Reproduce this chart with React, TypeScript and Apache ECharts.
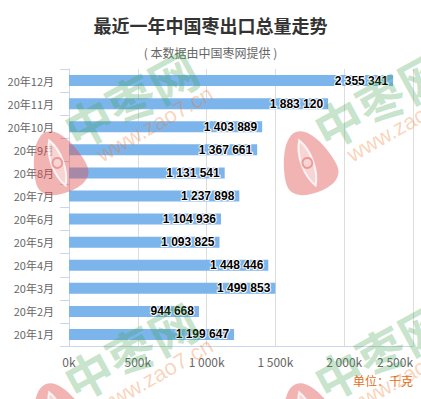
import React, { useEffect, useRef } from "react";
import * as echarts from "echarts";

const categories = [
  "20年1月", "20年2月", "20年3月", "20年4月", "20年5月", "20年6月",
  "20年7月", "20年8月", "20年9月", "20年10月", "20年11月", "20年12月",
];
const exportValues = [
  1199647, 944668, 1499853, 1448446, 1093825, 1104936,
  1237898, 1131541, 1367661, 1403889, 1883120, 2355341,
];
const axisMin = 0;
const axisMax = 2500000;
const axisInterval = 500000;
const titleText = "最近一年中国枣出口总量走势";
const subtitleText = "( 本数据由中国枣网提供 )";
const unitText = "单位：千克";

const CJK = '"Noto Sans CJK SC", "Noto Sans", sans-serif';

function spaced(n: number): string {
  return String(Math.round(n)).replace(/\B(?=(\d{3})+(?!\d))/g, " ");
}

const LOGO_D =
  "M0 -32 C16 -32 27 2 27 15 C27 27 15 32 0 32 C-15 32 -27 27 -27 15 C-27 2 -16 -32 0 -32 Z";
const LENS_D = "M0 -23 C8 -10 8 12 0 25 C-8 12 -8 -10 0 -23 Z";
let registered = false;
function registerShapes() {
  if (registered) return;
  registered = true;
  echarts.graphic.registerShape("zaologo", echarts.graphic.extendPath(LOGO_D, {}));
  echarts.graphic.registerShape("zaolens", echarts.graphic.extendPath(LENS_D, {}));
}

function watermarks(): any[] {
  const els: any[] = [];
  const tilesX = [0, 250];
  const tilesY = [0, 252];
  for (const dx of tilesX) {
    for (const dy of tilesY) {
      els.push({
        type: "group",
        x: 57 + dx,
        y: 162 + dy,
        rotation: 0.35,
        z: 100,
        children: [
          { type: "zaologo", style: { fill: "rgba(225,75,75,0.42)" }, z: 100 },
          {
            type: "zaolens",
            style: { fill: "rgba(255,255,255,0.45)", stroke: "rgba(255,255,255,0.8)", lineWidth: 2 },
            z: 101,
          },
          {
            type: "circle",
            shape: { cx: 0, cy: 1, r: 5 },
            style: { fill: "none", stroke: "rgba(225,75,75,0.45)", lineWidth: 2 },
            z: 102,
          },
        ],
      });
      els.push({
        type: "text",
        x: 130 + dx,
        y: 98 + dy,
        rotation: 0.5,
        z: 100,
        style: {
          text: "中枣网",
          fontSize: 48,
          fontWeight: "bold",
          fontFamily: "Noto Sans CJK SC",
          fill: "rgba(60,160,80,0.30)",
          textAlign: "center",
          textVerticalAlign: "middle",
        },
      });
      els.push({
        type: "text",
        x: 155 + dx,
        y: 124 + dy,
        rotation: 0.52,
        z: 100,
        style: {
          text: "www.zao7.cn",
          fontSize: 22,
          fontFamily: "Liberation Sans",
          fill: "rgba(240,120,40,0.33)",
          textAlign: "center",
          textVerticalAlign: "middle",
        },
      });
    }
  }
  return els;
}

export default function App() {
  const ref = useRef<HTMLDivElement>(null);
  useEffect(() => {
    if (!ref.current) return;
    registerShapes();
    const chart = echarts.init(ref.current, null, { renderer: "svg" });
    chart.setOption({
      animation: false,
      backgroundColor: "#ffffff",
      title: [
        {
          text: titleText,
          left: "center",
          top: 11,
          textStyle: { fontSize: 18, fontWeight: "bold", color: "#333333", fontFamily: CJK },
        },
        {
          text: subtitleText,
          left: "center",
          top: 41,
          textStyle: { fontSize: 12, fontWeight: "normal", color: "#666666", fontFamily: CJK },
        },
      ],
      grid: { left: 69, right: 8, top: 69, bottom: 53, containLabel: false },
      xAxis: {
        type: "value",
        min: axisMin,
        max: axisMax,
        interval: axisInterval,
        axisLine: { show: true, lineStyle: { color: "#ccd6eb" } },
        axisTick: { show: false },
        splitLine: { show: true, lineStyle: { color: "#dddddd", width: 1 } },
        axisLabel: {
          color: "#666666",
          fontSize: 12,
          fontFamily: CJK,
          margin: 9,
          alignMaxLabel: "right",
          formatter: (v: number) => spaced(v / 1000) + "k",
        },
      },
      yAxis: {
        type: "category",
        data: categories,
        axisLine: { show: true, lineStyle: { color: "#ccd6eb" } },
        axisTick: { show: true, length: 9, lineStyle: { color: "#ccd6eb" } },
        axisLabel: { color: "#666666", fontSize: 11, fontFamily: CJK, margin: 15 },
        splitLine: { show: false },
      },
      series: [
        {
          type: "bar",
          data: exportValues,
          barWidth: 11,
          itemStyle: { color: "#7cb5ec" },
          label: {
            show: true,
            position: "insideRight",
            distance: 5,
            color: "#000000",
            fontSize: 12,
            fontWeight: "bold",
            fontFamily: '"Liberation Sans", sans-serif',
            textBorderColor: "#ffffff",
            textBorderWidth: 2,
            formatter: (p: any) => spaced(p.value),
          },
          z: 2,
        },
      ],
      graphic: [
        ...watermarks(),
        {
          type: "text",
          right: 8,
          top: 374,
          z: 110,
          style: {
            text: unitText,
            font: "12px " + CJK,
            fill: "#e0701a",
          },
        },
      ],
    });
    return () => chart.dispose();
  }, []);
  return (
    <div
      ref={ref}
      style={{ position: "absolute", left: 0, top: 0, width: 421, height: 399 }}
    />
  );
}
